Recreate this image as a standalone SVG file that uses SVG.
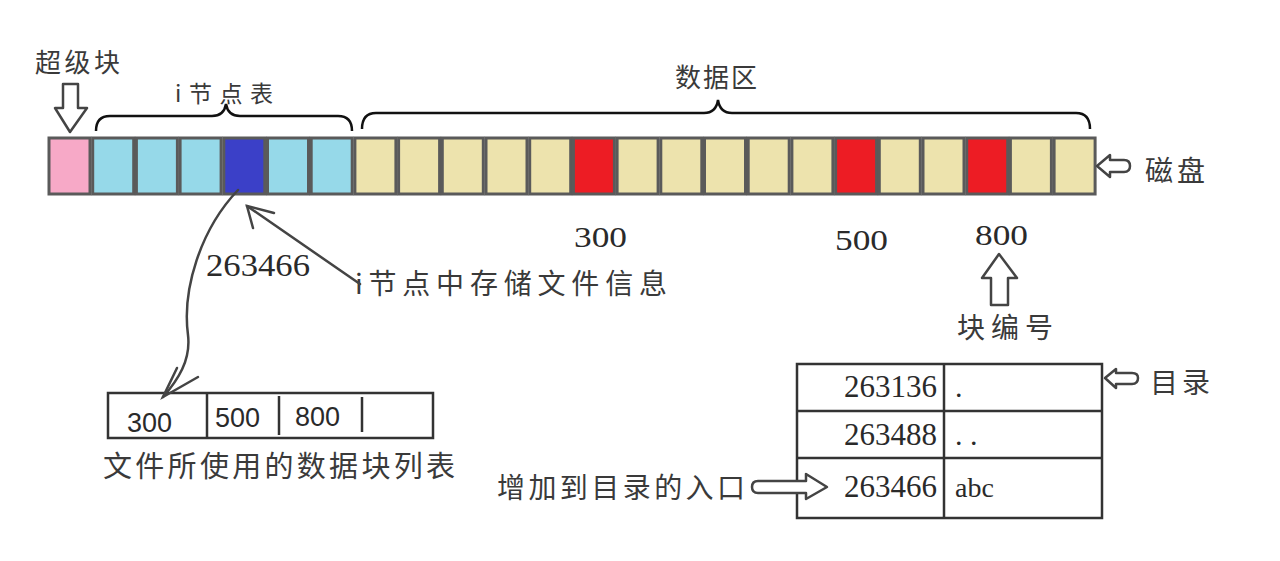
<svg xmlns="http://www.w3.org/2000/svg" width="1280" height="561" viewBox="0 0 1280 561">
<style>
.cell{stroke:#5a5a5a;stroke-width:3}
.sb{fill:#f7a9c7}.in{fill:#96d9e9}.cur{fill:#3b40c8}.dt{fill:#ede3ad}.rd{fill:#ed1c24}
.zh{font-family:"Noto Sans CJK SC","Noto Sans",sans-serif;fill:#3a3a3a}
.num{font-family:"Liberation Serif",serif;fill:#2a2a2a}
.sans{font-family:"Liberation Sans",sans-serif;fill:#2a2a2a}
.hol{fill:#fff;stroke:#444;stroke-width:2.5;stroke-linejoin:round}
.brace{fill:none;stroke:#111;stroke-width:2.5}
.tbl{fill:none;stroke:#333;stroke-width:2.5}
.ln{fill:none;stroke:#444;stroke-width:2.5;stroke-linecap:round}
</style>
<rect width="1280" height="561" fill="#fff"/>

<g id="disk">
<rect class="cell sb" x="49" y="138" width="41" height="56"/>
<rect class="cell in" x="92.7" y="138" width="41" height="56"/>
<rect class="cell in" x="136.4" y="138" width="41" height="56"/>
<rect class="cell in" x="180.1" y="138" width="41" height="56"/>
<rect class="cell cur" x="223.8" y="138" width="41" height="56"/>
<rect class="cell in" x="267.5" y="138" width="41" height="56"/>
<rect class="cell in" x="311.2" y="138" width="41" height="56"/>
<rect class="cell dt" x="354.9" y="138" width="41" height="56"/>
<rect class="cell dt" x="398.6" y="138" width="41" height="56"/>
<rect class="cell dt" x="442.3" y="138" width="41" height="56"/>
<rect class="cell dt" x="486" y="138" width="41" height="56"/>
<rect class="cell dt" x="529.7" y="138" width="41" height="56"/>
<rect class="cell rd" x="573.4" y="138" width="41" height="56"/>
<rect class="cell dt" x="617.1" y="138" width="41" height="56"/>
<rect class="cell dt" x="660.8" y="138" width="41" height="56"/>
<rect class="cell dt" x="704.5" y="138" width="41" height="56"/>
<rect class="cell dt" x="748.2" y="138" width="41" height="56"/>
<rect class="cell dt" x="791.9" y="138" width="41" height="56"/>
<rect class="cell rd" x="835.6" y="138" width="41" height="56"/>
<rect class="cell dt" x="879.3" y="138" width="41" height="56"/>
<rect class="cell dt" x="923" y="138" width="41" height="56"/>
<rect class="cell rd" x="966.7" y="138" width="41" height="56"/>
<rect class="cell dt" x="1010.4" y="138" width="41" height="56"/>
<rect class="cell dt" x="1054.1" y="138" width="41" height="56"/>
</g>

<g id="superblock-label">
<text class="zh" x="35" y="72" font-size="26" textLength="85" lengthAdjust="spacing">超级块</text>
<polygon class="hol" points="63,84 78,84 78,108 87,108 70,132 55,108 63,108"/>
</g>

<g id="inode-table-label">
<path class="brace" d="M96,131 Q96,116 110,116 L212,116 Q224,116 226,104 Q228,116 240,116 L338,116 Q352,116 352,131"/>
<text class="zh" x="175" y="102" font-size="23" textLength="98" lengthAdjust="spacing">i节点表</text>
</g>

<g id="data-area-label">
<path class="brace" d="M362,129 Q362,113 376,113 L704,113 Q716,113 718,100 Q720,113 732,113 L1076,113 Q1090,113 1090,129"/>
<text class="zh" x="675" y="87" font-size="26" textLength="82" lengthAdjust="spacing">数据区</text>
</g>

<g id="disk-label">
<path class="hol" d="M1097,166 L1110,155 L1110,160 L1124,160 Q1130,160 1130,166 Q1130,172 1124,172 L1110,172 L1110,177 Z"/>
<text class="zh" x="1145" y="181" font-size="28" textLength="60" lengthAdjust="spacing">磁盘</text>
</g>

<g id="block-numbers">
<text class="num" x="574" y="247" font-size="30" textLength="53" lengthAdjust="spacingAndGlyphs">300</text>
<text class="num" x="835" y="250" font-size="30" textLength="53" lengthAdjust="spacingAndGlyphs">500</text>
<text class="num" x="975" y="245" font-size="30" textLength="53" lengthAdjust="spacingAndGlyphs">800</text>
</g>

<g id="block-number-label">
<polygon class="hol" points="999,254 1017,278 1008,278 1008,305 991,305 991,278 982,278"/>
<text class="zh" x="957" y="338" font-size="28" textLength="96" lengthAdjust="spacing">块编号</text>
</g>

<g id="inode-info">
<text class="num" x="206" y="276" font-size="32" textLength="104" lengthAdjust="spacingAndGlyphs">263466</text>
<text class="zh" x="355" y="294" font-size="28" textLength="312" lengthAdjust="spacing">i节点中存储文件信息</text>
</g>

<g id="block-list">
<rect class="tbl" x="108" y="393" width="325" height="45"/>
<line class="tbl" x1="207" y1="393" x2="207" y2="438"/>
<line class="tbl" x1="279" y1="396" x2="279" y2="435"/>
<line class="tbl" x1="362" y1="397" x2="362" y2="432"/>
<text class="sans" x="127" y="432" font-size="27">300</text>
<text class="sans" x="215" y="427" font-size="27">500</text>
<text class="sans" x="295" y="426" font-size="27">800</text>
<text class="zh" x="103" y="477" font-size="29" textLength="352" lengthAdjust="spacing">文件所使用的数据块列表</text>
</g>

<g id="directory">
<rect class="tbl" x="797" y="364" width="305" height="154"/>
<line class="tbl" x1="944" y1="364" x2="944" y2="518"/>
<line class="tbl" x1="797" y1="411" x2="1102" y2="411"/>
<line class="tbl" x1="797" y1="458" x2="1102" y2="458"/>
<text class="num" x="937" y="397" font-size="31" text-anchor="end">263136</text>
<text class="num" x="955" y="397" font-size="30">.</text>
<text class="num" x="937" y="445" font-size="31" text-anchor="end">263488</text>
<text class="num" x="955" y="445" font-size="30">. .</text>
<text class="num" x="937" y="497" font-size="31" text-anchor="end">263466</text>
<text class="num" x="955" y="497" font-size="28">abc</text>
</g>

<g id="directory-label">
<path class="hol" d="M1105,378 L1116,369 L1116,373 L1132,373 Q1138,373 1138,378 Q1138,384 1132,384 L1116,384 L1116,388 Z"/>
<text class="zh" x="1150" y="393" font-size="28" textLength="60" lengthAdjust="spacing">目录</text>
</g>

<g id="entry-label">
<text class="zh" x="497" y="498" font-size="28" textLength="248" lengthAdjust="spacing">增加到目录的入口</text>
<path class="hol" d="M827,487 L806,474 L806,481 L758,481 Q752,481 752,487 Q752,493 758,493 L806,493 L806,499 Z"/>
</g>

<g id="connectors">
<path class="ln" d="M360,284 L247,206"/>
<path class="ln" d="M274,213 L247,206 L253,228"/>
<path class="ln" d="M238,190 C200,230 182,290 188,335 C191,360 178,380 163,397"/>
<path class="ln" d="M177,368 L163,397 L198,377"/>
</g>
</svg>
